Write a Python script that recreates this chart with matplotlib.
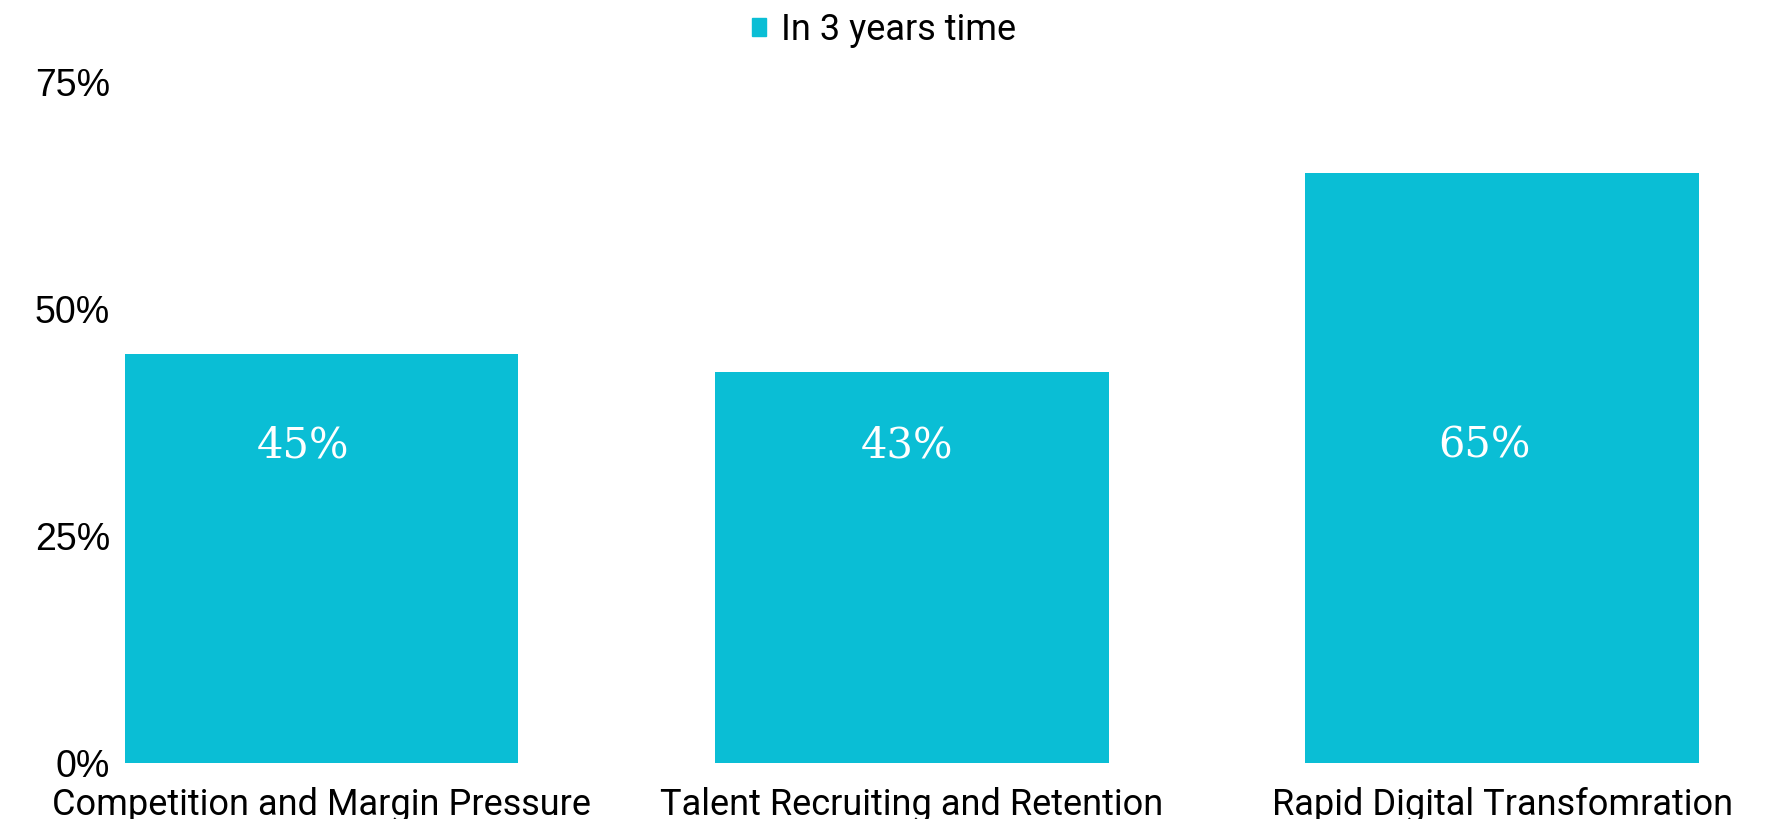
import matplotlib.pyplot as plt
from matplotlib.patches import Patch

categories = ['Competition and Margin Pressure', 'Talent Recruiting and Retention',
              'Rapid Digital Transfomration']
values = [45, 43, 65]
yticks = [0, 25, 50, 75]
bar_color = '#0ABED5'
label_dx = [-0.032, -0.008, -0.031]

fig = plt.figure(figsize=(17.68, 8.19), dpi=100)
ax = fig.add_axes([0.065, 0.0684, 0.935, 0.8316])

x = range(len(categories))
ax.bar(x, values, width=0.667, color=bar_color)

for i, v in enumerate(values):
    ax.text(i + label_dx[i], 35, f'{v}%', ha='center', va='center', color='white',
            fontsize=30, family='DejaVu Serif')

ax.set_xlim(-0.35, 2.45)
ax.set_ylim(0, 75)
ax.set_yticks(yticks)
ax.set_yticklabels([f'{t}%' for t in yticks], fontsize=27, family='Liberation Sans')
ax.set_xticks(list(x))
ax.set_xticklabels(categories, fontsize=26, family='Roboto')
ax.tick_params(axis='x', length=0, pad=17)
ax.tick_params(axis='y', length=0, pad=3.5)
for s in ax.spines.values():
    s.set_visible(False)

handles = [Patch(color=bar_color, label='In 3 years time')]
fig.legend(handles=handles, loc='upper center', bbox_to_anchor=(0.5, 1.025),
           frameon=False, prop={'family': 'Roboto', 'size': 26},
           handlelength=0.38, handleheight=0.38, handletextpad=0.4)

fig.savefig('out.png', dpi=100)
